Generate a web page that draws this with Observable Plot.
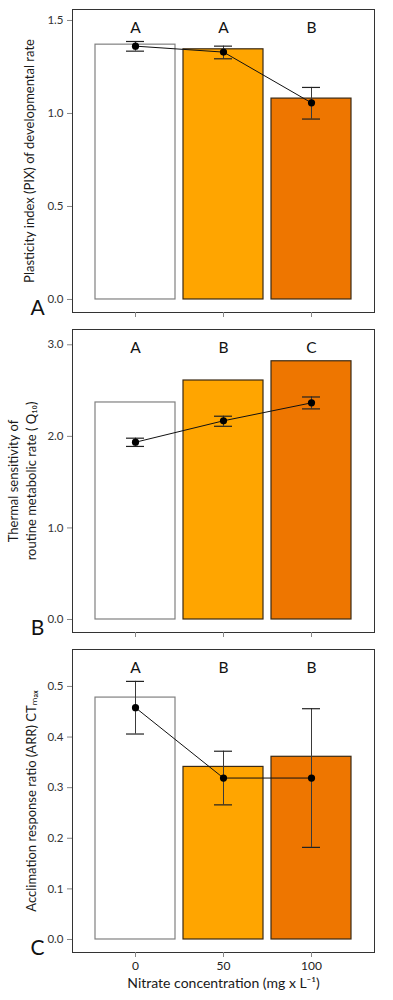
<!DOCTYPE html>
<html><head><meta charset="utf-8">
<script src="https://cdn.jsdelivr.net/npm/d3@7"></script>
<script src="https://cdn.jsdelivr.net/npm/@observablehq/plot@0.6"></script>
<style>body{margin:0;background:#fff} #chart{width:393px} #chart svg{display:block}</style>
</head><body><div id="chart"></div>
<script>
const nitrate = ["0", "50", "100"];
const barColors = ["#ffffff", "#ffa500", "#ee7600"];
const barStrokes = ["#808080", "#3b2a14", "#3b2a14"];

// Panel A: plasticity index of developmental rate
const pixBar = [1.37, 1.345, 1.08];
const pixMean = [1.362, 1.33, 1.057];
const pixLo = [1.335, 1.294, 0.97];
const pixHi = [1.387, 1.362, 1.14];
const pixLetters = ["A", "A", "B"];
const pixTicks = [0, 0.5, 1.0, 1.5];

// Panel B: thermal sensitivity (Q10)
const q10Bar = [2.37, 2.61, 2.82];
const q10Mean = [1.936, 2.17, 2.366];
const q10Lo = [1.89, 2.11, 2.30];
const q10Hi = [1.98, 2.22, 2.43];
const q10Letters = ["A", "B", "C"];
const q10Ticks = [0, 1, 2, 3];

// Panel C: acclimation response ratio CTmax
const arrBar = [0.478, 0.341, 0.361];
const arrMean = [0.458, 0.319, 0.319];
const arrLo = [0.406, 0.266, 0.182];
const arrHi = [0.51, 0.372, 0.456];
const arrLetters = ["A", "B", "B"];
const arrTicks = [0, 0.1, 0.2, 0.3, 0.4, 0.5];

const FONT = "Lato, 'Open Sans', sans-serif";

function panel(o) {
  const rows = nitrate.map((n, i) => ({
    n, bar: o.bar[i], mean: o.mean[i], lo: o.lo[i], hi: o.hi[i],
    letter: o.letters[i], fill: barColors[i], stroke: barStrokes[i]
  }));
  const marks = [
    Plot.barY(rows, {x: "n", y: "bar", fill: "fill", stroke: "stroke", strokeWidth: 1.2}),
    Plot.ruleX(rows, {x: "n", y1: "lo", y2: "hi", stroke: "#3a3a3a", strokeWidth: 1}),
    Plot.tickY(rows, {x: "n", y: "lo", insetLeft: 31, insetRight: 31, stroke: "#222", strokeWidth: 1.2}),
    Plot.tickY(rows, {x: "n", y: "hi", insetLeft: 31, insetRight: 31, stroke: "#222", strokeWidth: 1.2}),
    Plot.line(rows, {x: "n", y: "mean", stroke: "#111", strokeWidth: 1}),
    Plot.dot(rows, {x: "n", y: "mean", r: 3.6, fill: "#000", stroke: "none"}),
    Plot.text(rows, {x: "n", text: "letter", frameAnchor: "top", dy: 19, fontSize: 15.5, lineAnchor: "middle", fill: "#111"}),
    Plot.frame({stroke: "#333", strokeWidth: 1}),
    Plot.axisY({ticks: o.ticks, tickFormat: d3.format(".1f"), tickSize: 5, tickPadding: 4, label: null, fontSize: 11.5, stroke: "#888", fill: "#333"}),
    Plot.axisX({tickSize: 5, tickPadding: 4, label: null, fontSize: 12, stroke: "#888", fill: "#222",
      tickFormat: o.showX ? (d) => d : () => ""}),
    Plot.text([o.ylabel], {text: (d) => d, frameAnchor: "left", dx: o.ylabelDx, rotate: -90,
      textAnchor: "middle", lineAnchor: "middle", fontSize: 13, lineHeight: 1.38, fill: "#1a1a1a"}),
    Plot.text([o.panelLetter], {text: (d) => d, frameAnchor: "bottom-left", dx: -35, dy: -4,
      textAnchor: "middle", lineAnchor: "middle", fontSize: 21, fill: "#111"})
  ];
  if (o.showX) {
    marks.push(Plot.text(["Nitrate concentration (mg x L\u207B\u00B9)"], {text: (d) => d, frameAnchor: "bottom",
      dy: 31, textAnchor: "middle", lineAnchor: "middle", fontSize: 14, fill: "#1a1a1a"}));
  }
  return Plot.plot({
    width: 393, height: o.height,
    marginLeft: 72, marginRight: 19, marginTop: 9, marginBottom: o.marginBottom,
    style: {fontFamily: FONT, background: "#fff", overflow: "visible"},
    x: {type: "band", domain: nitrate, paddingInner: 0.09, paddingOuter: 0.26, axis: null},
    y: {domain: o.yDomain, axis: null},
    color: {type: "identity"},
    marks
  });
}

const chart = document.getElementById("chart");
chart.append(panel({
  bar: pixBar, mean: pixMean, lo: pixLo, hi: pixHi, letters: pixLetters, ticks: pixTicks,
  yDomain: [-0.07, 1.559], height: 320, marginBottom: 8, showX: false,
  ylabel: "Plasticity index (PIX) of developmental rate", ylabelDx: -44, panelLetter: "A"
}));
chart.append(panel({
  bar: q10Bar, mean: q10Mean, lo: q10Lo, hi: q10Hi, letters: q10Letters, ticks: q10Ticks,
  yDomain: [-0.142, 3.167], height: 320, marginBottom: 8, showX: false,
  ylabel: "Thermal sensitivity of\nroutine metabolic rate ( Q\u2081\u2080)", ylabelDx: -51, panelLetter: "B"
}));
chart.append(panel({
  bar: arrBar, mean: arrMean, lo: arrLo, hi: arrHi, letters: arrLetters, ticks: arrTicks,
  yDomain: [-0.0257, 0.573], height: 360, marginBottom: 48, showX: true,
  ylabel: "Acclimation response ratio (ARR) CT\u2098\u2090\u2093", ylabelDx: -42, panelLetter: "C"
}));
</script></body></html>
